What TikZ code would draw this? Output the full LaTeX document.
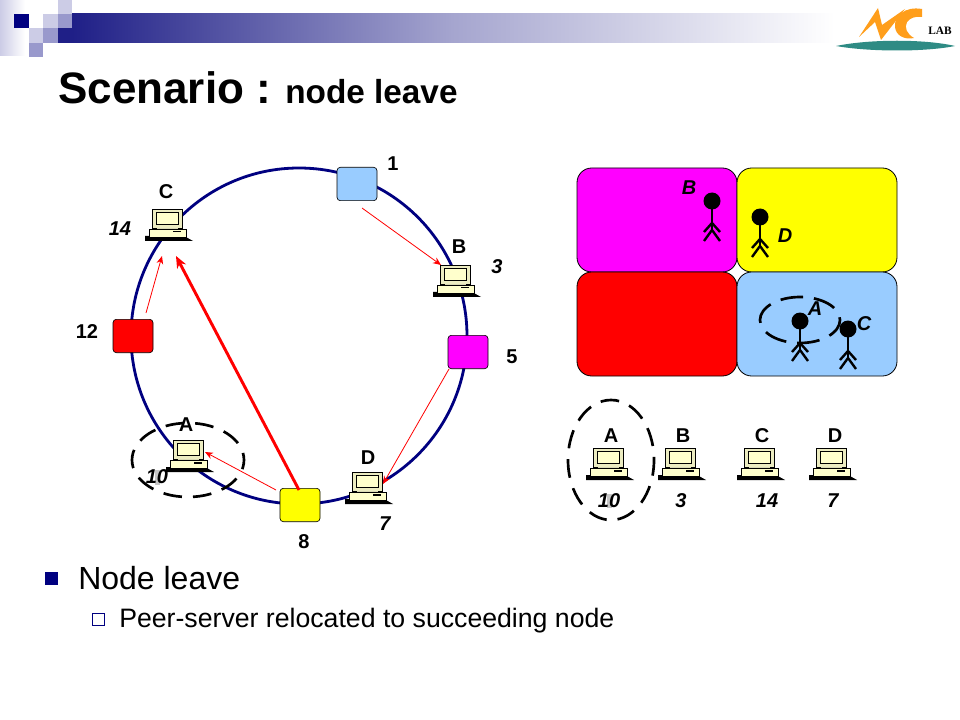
\documentclass[tikz,border=0pt]{standalone}
\usepackage{fontspec}
\setmainfont{Liberation Sans}
\usetikzlibrary{calc,arrows.meta,shapes.geometric}
\definecolor{navy}{HTML}{000080}
\definecolor{barblue}{HTML}{1F1F87}
\definecolor{pale}{HTML}{CCCCE6}
\definecolor{midb}{HTML}{9999CC}
\definecolor{skyb}{HTML}{99CCFF}
\definecolor{beige}{HTML}{FFFFCC}
\definecolor{logoor}{HTML}{FF9E1B}
\definecolor{logote}{HTML}{2E8B84}
\definecolor{puremag}{HTML}{FF00FF}
\definecolor{pureyel}{HTML}{FFFF00}
\definecolor{purered}{HTML}{FF0000}
\tikzset{
  x=0.75pt,y=-0.75pt,
  peerbox/.style={draw=black,line width=0.5pt,rounded corners=2.5pt,minimum width=30pt,minimum height=25pt,inner sep=0pt},
  zone/.style={draw=black,line width=0.6pt,rounded corners=11pt},
  thinarr/.style={draw=purered,line width=0.6pt,-{Stealth[length=6pt,width=5pt]}},
  thickarr/.style={draw=purered,line width=2.2pt,-{Stealth[length=9pt,width=7.5pt]}},
  dashring/.style={draw=black,line width=2pt},
  lab/.style={font=\fontsize{15}{15}\bfseries\selectfont,inner sep=0pt},
  num/.style={font=\fontsize{15}{15}\bfseries\itshape\selectfont,inner sep=0pt},
  pcanchor/.style={inner sep=0pt,minimum size=0pt},
  stick/.style={draw=black,line width=1.8pt},
  computer/.pic={
    \fill[black] (-24,11) -- (-15,11) -- (15,11) -- (24,16) -- (-24,16) -- cycle;
    \draw[black,line width=0.3pt,fill=beige!85!gray] (-17,-16) rectangle (13,3);
    \draw[black,line width=0.3pt,fill=beige] (-13,-13) rectangle (9,-1);
    \fill[beige!70!gray] (-12,3) rectangle (9,5);
    \draw[black,line width=0.3pt,fill=beige] (-20,4) rectangle (17,12);
    \fill[black] (4,6) rectangle (12,7.5);
  },
  person/.pic={
    \fill[black] (0,0) circle [radius=8.5];
    \draw[stick] (0,0) -- (0,29);
    \draw[stick] (-8,31) -- (0,22) -- (8,31);
    \draw[stick] (-8,40) -- (0,29) -- (8,40);
  }
}
\begin{document}
\begin{tikzpicture}
\useasboundingbox (0,0) rectangle (960,720);
\fill[white] (0,0) rectangle (960,720);
% template decoration
\shade[left color=pale,right color=white] (0,0) rectangle (25,56);
\shade[left color=barblue,right color=white,middle color=barblue!40!white] (72,14) rectangle (835,43);
\fill[navy] (14,14) rectangle (29,28);
\fill[pale] (43,14) rectangle (58,28);
\fill[pale] (58,0) rectangle (72,14);
\fill[midb] (58,14) rectangle (72,28);
\fill[barblue] (58,28) rectangle (72,43);
\fill[pale] (29,28) rectangle (43,43);
\fill[midb] (43,28) rectangle (58,43);
\fill[midb] (29,43) rectangle (43,57);
% logo
\fill[logoor] (859,37) -- (878,8) -- (882,25) -- (905,9) -- (881,40) -- (875,22) -- cycle;
\fill[logoor] (922,9) .. controls (905,6) and (894,16) .. (895,27) .. controls (896,36) and (905,40) .. (914,38) .. controls (907,34) and (904,28) .. (907,22) .. controls (910,18) and (915,16) .. (922,17) -- cycle;
\fill[logote] (836,46) .. controls (870,39) and (925,39) .. (955,46) .. controls (925,52) and (870,52) .. (836,46) -- cycle;
\node[font=\fontsize{8.5}{8.5}\fontspec{Liberation Serif}\bfseries\selectfont,inner sep=0pt] (loglab) at (940,31) {LAB};
% title
\node[anchor=base west,inner sep=0pt,font=\fontsize{33}{33}\bfseries\selectfont] (title) at (58,104) {Scenario :};
\node[anchor=base west,inner sep=0pt,font=\fontsize{25}{25}\bfseries\selectfont] (subtitle) at (285,104) {node leave};
% ring
\draw[navy,line width=2.1pt] (299,336) circle [radius=168];
% peer boxes
\node[peerbox,fill=skyb] (n1) at (357,184) {};
\node[peerbox,fill=puremag] (n5) at (468,352) {};
\node[peerbox,fill=purered] (n12) at (133,336) {};
\node[peerbox,fill=pureyel] (n8) at (300,505) {};
% computers
\foreach \nm/\px/\py in {pcC/169/225,pcB/457/281,pcA/190/456,pcD/369/488,rA/610/464,rB/682/464,rC/761/464,rD/833/464}{
  \node[pcanchor] (\nm) at (\px,\py) {};
  \pic at (\nm) {computer};
}
% connectors
\draw[thinarr] ($(n1)+(5,24)$) -- ($(pcB)+(-16,-16)$);
\draw[thinarr] ($(n5)+(-19,17)$) -- ($(pcD)+(14,-4)$);
\draw[thinarr] ($(n8)+(-24,-15)$) -- ($(pcA)+(15,-4)$);
\draw[thinarr] ($(n12)+(13,-23)$) -- ($(pcC)+(-7,31)$);
\draw[thickarr] ($(n8)+(-1,-15)$) -- ($(pcC)+(7,31)$);
% dashed rings
\draw[dashring,dash pattern=on 14pt off 8.3pt,dash phase=7pt] (188,460) ellipse [x radius=56,y radius=37];
% ring labels
\node[lab] (t1) at (393,164) {1};
\node[lab] (t5) at (512,357) {5};
\node[lab] (t12) at (87,332) {12};
\node[lab] (t8) at (304,542) {8};
\node[lab] (tC) at (166,192) {C};
\node[lab] (tB) at (459,247) {B};
\node[lab] (tA) at (186,425) {A};
\node[lab] (tD) at (368,458) {D};
\node[num] (v14) at (120,229) {14};
\node[num] (v3) at (497,267) {3};
\fill[gray!45] (155,470) rectangle (160,485);
\node[num] (v10) at (157,477) {10};
\node[num] (v7) at (385,524) {7};
% zones
\draw[zone,fill=puremag] (577,168) rectangle (737,272);
\draw[zone,fill=pureyel] (737,168) rectangle (897,272);
\draw[zone,fill=purered] (577,272) rectangle (737,376);
\draw[zone,fill=skyb] (737,272) rectangle (897,376);
\draw[dashring,dash pattern=on 17pt off 8.2pt,dash phase=2.25pt] (800,320) ellipse [x radius=40,y radius=23];
\foreach \nm/\px/\py in {pB/712/201,pD/760/217,pA/800/321,pC/848/329}{
  \coordinate (\nm) at (\px,\py);
  \pic at (\nm) {person};
}
\node[lab,font=\fontsize{15}{15}\bfseries\itshape\selectfont] (zB) at (689,188) {B};
\node[lab,font=\fontsize{15}{15}\bfseries\itshape\selectfont] (zD) at (785,236) {D};
\node[lab,font=\fontsize{15}{15}\bfseries\itshape\selectfont] (zA) at (815,309) {A};
\node[lab,font=\fontsize{15}{15}\bfseries\itshape\selectfont] (zC) at (864,324) {C};
% row
\draw[dashring,dash pattern=on 14pt off 8.2pt,dash phase=2.25pt] (611,460) ellipse [x radius=43,y radius=60];
\node[lab] (hA) at (611,436) {A};
\node[lab] (hB) at (683,436) {B};
\node[lab] (hC) at (762,436) {C};
\node[lab] (hD) at (835,436) {D};
\fill[gray!45] (607,494) rectangle (612,508);
\node[num] (w10) at (609,501) {10};
\node[num] (w3) at (681,501) {3};
\node[num] (w14) at (767,501) {14};
\node[num] (w7) at (833,501) {7};
% bullets
\fill[navy] (45,572) rectangle (58,585);
\node[anchor=base west,inner sep=0pt,font=\fontsize{24}{24}\selectfont] (b1) at (78,589) {Node leave};
\draw[navy,line width=0.5pt] (92,613) rectangle (104,625);
\node[anchor=base west,inner sep=0pt,font=\fontsize{20}{22}\selectfont] (b2) at (119,627) {Peer-server relocated to succeeding node};
\end{tikzpicture}
\end{document}
